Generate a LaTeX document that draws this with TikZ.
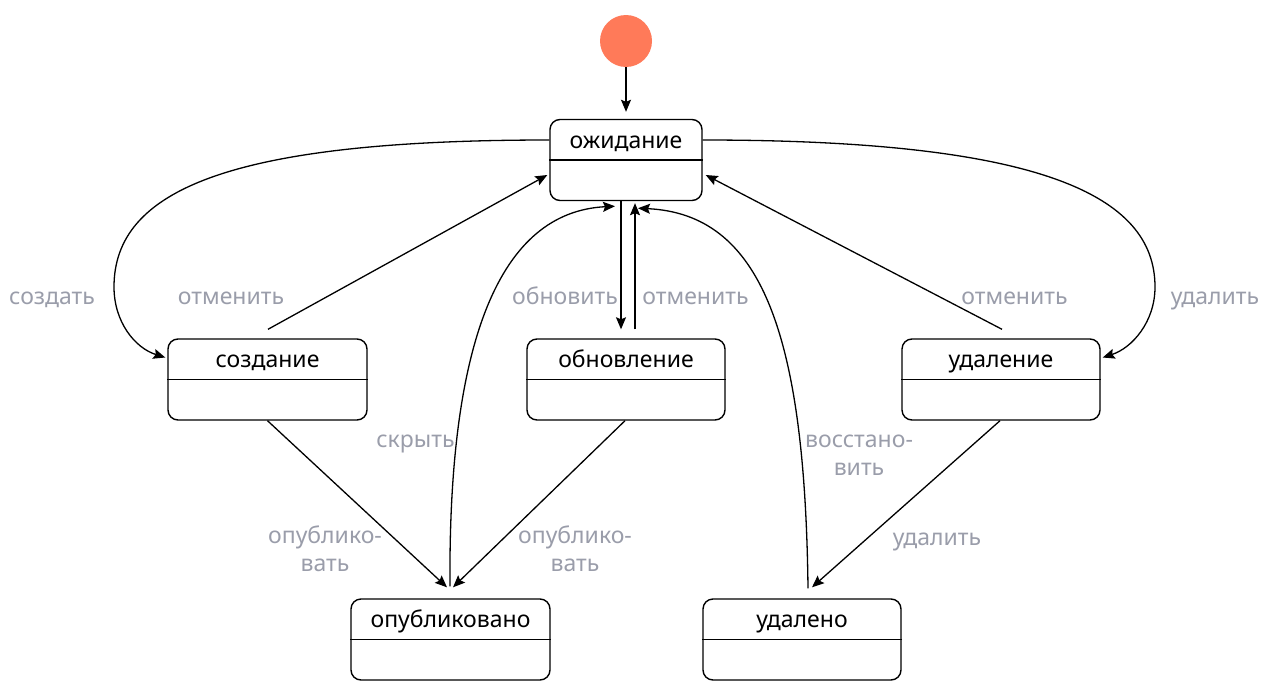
\documentclass[tikz,border=0pt]{standalone}
\usepackage{fontspec}
\setmainfont{Noto Sans}
\usetikzlibrary{arrows.meta,calc}
\definecolor{lblgray}{HTML}{9A9DAA}
\definecolor{initc}{HTML}{FF7A59}
\begin{document}
\begin{tikzpicture}[x=1pt,y=-1pt,
  statebox/.style={draw=black,line width=1.4pt,rounded corners=10pt,fill=white,inner sep=0pt,minimum height=81pt},
  stxt/.style={font=\fontsize{23}{28}\selectfont,text=black,inner sep=0pt,anchor=base},
  lbl/.style={font=\fontsize{23}{28}\selectfont,text=lblgray,align=center,inner sep=0pt},
  lblb/.style={lbl,anchor=base},
  arr/.style={line width=1.3pt,-{Stealth[length=12pt,width=10pt,inset=2pt]}}]
\useasboundingbox (0,0) rectangle (1274,696);
% initial
\node[circle,fill=initc,minimum size=52pt,inner sep=0pt] (init) at (626,41) {};
% states
\node[statebox,minimum width=152pt] (wait) at (626,160) {};
\node[statebox,minimum width=199pt] (cr) at (267.5,379.5) {};
\node[statebox,minimum width=198pt] (up) at (626,379.5) {};
\node[statebox,minimum width=198pt] (del) at (1001,379.5) {};
\node[statebox,minimum width=199pt] (pub) at (450.5,639.5) {};
\node[statebox,minimum width=198pt] (gone) at (802,639.5) {};
\foreach \n in {wait,cr,up,del,pub,gone}{\draw[line width=1.3pt] (\n.west) -- (\n.east);}
\node[stxt] (twait) at ($(wait.north)+(0,29.5)$) {ожидание};
\node[stxt] (tcr) at ($(cr.north)+(0,29)$) {создание};
\node[stxt] (tup) at ($(up.north)+(0,29)$) {обновление};
\node[stxt] (tdel) at ($(del.north)+(0,29)$) {удаление};
\node[stxt] (tpub) at ($(pub.north)+(0,29)$) {опубликовано};
\node[stxt] (tgone) at ($(gone.north)+(0,29)$) {удалено};
% connectors
\draw[arr,shorten >=7pt] (init) -- (wait);
\coordinate (lftmost) at (114,287);
\coordinate (rgtmost) at (1155,287);
\draw[arr] ($(wait.west)+(0,-20)$) .. controls (230,140) and (114,190) .. (lftmost)
   .. controls (114,322) and (135,348) .. ($(cr.west)+(-2,-22)$);
\draw[arr] ($(wait.east)+(0,-20)$) .. controls (1040,140) and (1155,195) .. (rgtmost)
   .. controls (1155,322) and (1132,348) .. ($(del.east)+(2,-22)$);
\draw[arr] ($(cr.north)+(0.5,-9)$) -- ($(wait.west)+(-2,15)$);
\draw[arr] ($(del.north)+(1,-9)$) -- ($(wait.east)+(3,15)$);
\draw[arr] ($(wait.south)+(-5,0)$) -- ($(up.north)+(-5,-9)$);
\draw[arr] ($(up.north)+(9,-9)$) -- ($(wait.south)+(9,2)$);
\draw[arr] (cr.south) -- ($(pub.north)+(-3.5,-11)$);
\draw[arr] ($(up.south)+(-1,0)$) -- ($(pub.north)+(2.5,-11)$);
\draw[arr] ($(del.south)+(-1,0)$) -- ($(gone.north)+(10,-11)$);
\draw[arr] ($(pub.north)+(-0.5,-12)$) .. controls (448,340) and (500,212) .. ($(wait.south)+(-11,5)$);
\draw[arr] ($(gone.north)+(6,-10)$) .. controls (805,330) and (760,214) .. ($(wait.south)+(12,7)$);
% labels
\node[lblb] (l1) at (52,304) {создать};
\node[lblb] (l2) at (231,304) {отменить};
\node[lblb] (l3) at (565,304) {обновить};
\node[lblb] (l4) at (695.5,304) {отменить};
\node[lblb] (l5) at (1014.5,304) {отменить};
\node[lblb] (l6) at (1215,304) {удалить};
\node[lblb] (l7) at (415.5,447) {скрыть};
\node[lbl] (l8) at (325,549) {опублико-\\вать};
\node[lbl] (l9) at (575,549) {опублико-\\вать};
\node[lbl] (l10) at (859,455.5) {восстано-\\вить};
\node[lblb] (l11) at (937,545) {удалить};
\end{tikzpicture}
\end{document}
